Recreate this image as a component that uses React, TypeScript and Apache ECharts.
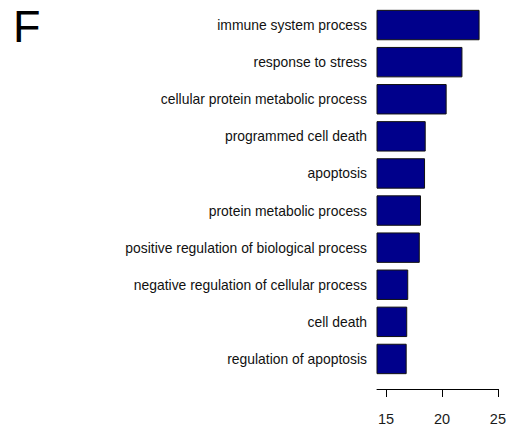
import React, { useEffect, useRef } from "react";
import * as echarts from "echarts";

const categories = [
  "immune system process",
  "response to stress",
  "cellular protein metabolic process",
  "programmed cell death",
  "apoptosis",
  "protein metabolic process",
  "positive regulation of biological process",
  "negative regulation of cellular process",
  "cell death",
  "regulation of apoptosis",
];
const values = [23.36, 21.83, 20.42, 18.55, 18.49, 18.13, 18.02, 16.99, 16.9, 16.85];
const tickValues = [15, 20, 25];
const panelLabel = "F";

export default function App() {
  const ref = useRef<HTMLDivElement>(null);
  useEffect(() => {
    if (!ref.current) return;
    const chart = echarts.init(ref.current, undefined, { renderer: "svg" });
    chart.setOption({
      animation: false,
      backgroundColor: "#ffffff",
      textStyle: { fontFamily: "Liberation Sans, Arial, sans-serif" },
      graphic: [
        {
          type: "text",
          left: 13,
          top: 4,
          style: {
            text: panelLabel,
            fontSize: 45,
            fontFamily: "Liberation Sans, Arial, sans-serif",
            fill: "#000",
          },
        },
      ],
      grid: { left: 377, right: 10, top: 6.5, bottom: 45.5, containLabel: false },
      xAxis: {
        type: "value",
        min: 14.2,
        max: 25,
        offset: 11.5,
        splitLine: { show: false },
        axisLine: { show: true, lineStyle: { color: "#000", width: 1 } },
        axisTick: {
          show: true,
          length: 8,
          inside: false,
          customValues: tickValues,
          lineStyle: { color: "#000" },
        },
        axisLabel: {
          customValues: tickValues,
          fontSize: 14.5,
          color: "#1a1a1a",
          margin: 22,
          fontFamily: "Liberation Sans, Arial, sans-serif",
        },
      },
      yAxis: {
        type: "category",
        inverse: true,
        data: categories,
        axisLine: { show: false },
        axisTick: { show: false },
        axisLabel: {
          fontSize: 13.9,
          color: "#111",
          margin: 10,
          fontFamily: "Liberation Sans, Arial, sans-serif",
        },
      },
      series: [
        {
          type: "bar",
          data: values,
          barCategoryGap: "18%",
          itemStyle: { color: "#00008B", borderColor: "#111", borderWidth: 1 },
        },
      ],
    });
    return () => chart.dispose();
  }, []);
  return (
    <div
      ref={ref}
      style={{ position: "fixed", left: 0, top: 0, width: 509, height: 426 }}
    />
  );
}
